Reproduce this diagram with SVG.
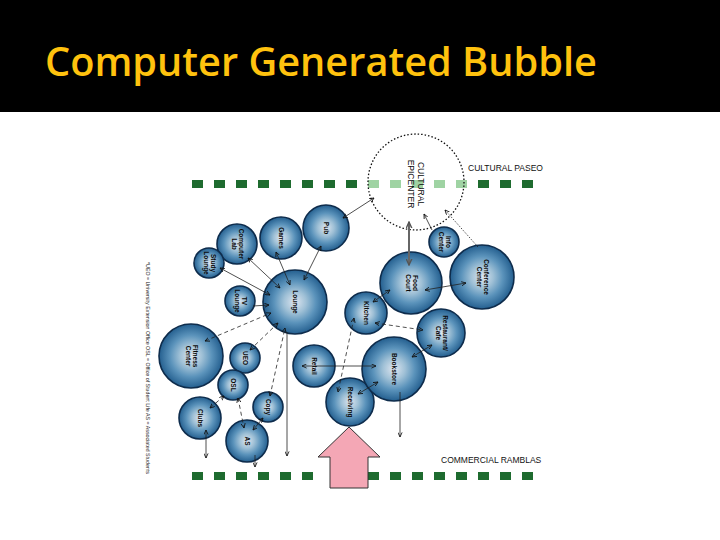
<svg xmlns="http://www.w3.org/2000/svg" width="720" height="540" viewBox="0 0 720 540">
<defs>
<radialGradient id="bub" cx="50%" cy="50%" r="50%">
<stop offset="0" stop-color="#dfe6f0"/>
<stop offset="0.35" stop-color="#9fc0d6"/>
<stop offset="0.65" stop-color="#5b93bb"/>
<stop offset="1" stop-color="#245f8f"/>
</radialGradient>
<marker id="ah" viewBox="0 0 6 6" refX="5.5" refY="3" markerWidth="5" markerHeight="5" markerUnits="userSpaceOnUse" orient="auto-start-reverse">
<path d="M0,0.5 L5.5,3 L0,5.5" fill="none" stroke="#111" stroke-width="1"/>
</marker>
<marker id="ahg" viewBox="0 0 6 6" refX="5.5" refY="3" markerWidth="7" markerHeight="7" markerUnits="userSpaceOnUse" orient="auto-start-reverse">
<path d="M0,0.5 L5.5,3 L0,5.5" fill="none" stroke="#555" stroke-width="1.2"/>
</marker>
</defs>
<style>
.b{fill:url(#bub);stroke:#0e2c4c;stroke-width:1.6}
.t{font-family:"Liberation Sans",Arial,sans-serif;font-weight:bold;font-size:6.5px;fill:#0a0a0a;text-anchor:middle}
.c{fill:none;stroke:#222;stroke-width:0.8}
.d{stroke-dasharray:4,3}
.sq{fill:#1e6b2f}
.sql{fill:#9fd3a3}
.lab{font-family:"Liberation Sans",Arial,sans-serif;font-size:8.5px;fill:#111}
</style>
<rect x="0" y="0" width="720" height="540" fill="#ffffff"/>
<rect x="0" y="0" width="720" height="112" fill="#000"/>
<text x="45" y="76" font-family="'Open Sans','Noto Sans',sans-serif" font-weight="600" font-size="40" fill="#FFC20E" textLength="552" lengthAdjust="spacingAndGlyphs">Computer Generated Bubble</text>

<g id="paseo-line">
<rect class="sq" x="192" y="180" width="11" height="8"/>
<rect class="sq" x="214" y="180" width="11" height="8"/>
<rect class="sq" x="236" y="180" width="11" height="8"/>
<rect class="sq" x="258" y="180" width="11" height="8"/>
<rect class="sq" x="280" y="180" width="11" height="8"/>
<rect class="sq" x="302" y="180" width="11" height="8"/>
<rect class="sq" x="324" y="180" width="11" height="8"/>
<rect class="sq" x="346" y="180" width="11" height="8"/>
<rect class="sql" x="368" y="180" width="11" height="8"/>
<rect class="sql" x="390" y="180" width="11" height="8"/>
<rect class="sql" x="412" y="180" width="11" height="8"/>
<rect class="sql" x="434" y="180" width="11" height="8"/>
<rect class="sql" x="456" y="180" width="11" height="8"/>
<rect class="sq" x="478" y="180" width="11" height="8"/>
<rect class="sq" x="500" y="180" width="11" height="8"/>
<rect class="sq" x="522" y="180" width="11" height="8"/>
</g>
<g id="ramblas-line">
<rect class="sq" x="192" y="472" width="11" height="8"/>
<rect class="sq" x="214" y="472" width="11" height="8"/>
<rect class="sq" x="236" y="472" width="11" height="8"/>
<rect class="sq" x="258" y="472" width="11" height="8"/>
<rect class="sq" x="280" y="472" width="11" height="8"/>
<rect class="sq" x="302" y="472" width="11" height="8"/>
<rect class="sq" x="368" y="472" width="11" height="8"/>
<rect class="sq" x="390" y="472" width="11" height="8"/>
<rect class="sq" x="412" y="472" width="11" height="8"/>
<rect class="sq" x="434" y="472" width="11" height="8"/>
<rect class="sq" x="456" y="472" width="11" height="8"/>
<rect class="sq" x="478" y="472" width="11" height="8"/>
<rect class="sq" x="500" y="472" width="11" height="8"/>
<rect class="sq" x="522" y="472" width="11" height="8"/>
</g>
<text class="lab" x="468" y="171">CULTURAL PASEO</text>
<text class="lab" x="441" y="463">COMMERCIAL RAMBLAS</text>
<text x="0" y="0" transform="translate(146,262) rotate(90)" font-family="'Liberation Sans',Arial,sans-serif" font-size="5.5" fill="#222" textLength="212" lengthAdjust="spacingAndGlyphs">*UEO = University Extension Office   OSL = Office of Student Life   AS = Associated Students</text>

<g id="epicenter">
<circle cx="416" cy="182" r="48" fill="none" stroke="#111" stroke-width="1.3" stroke-dasharray="1.5,2"/>
<text class="t" transform="translate(416,184) rotate(90)" style="font-weight:normal;font-size:8.5px"><tspan x="0" dy="-2">CULTURAL</tspan><tspan x="0" dy="10">EPICENTER</tspan></text>
</g>

<g id="pub"><circle class="b" cx="326" cy="228" r="23"/><text class="t" transform="translate(326,228) rotate(90)" dy="2">Pub</text></g>
<g id="games"><circle class="b" cx="281" cy="238" r="21"/><text class="t" transform="translate(281,238) rotate(90)" dy="2">Games</text></g>
<g id="computer-lab"><circle class="b" cx="237" cy="244" r="20"/><text class="t" transform="translate(237,244) rotate(90)"><tspan x="0" dy="-2">Computer</tspan><tspan x="0" dy="7">Lab</tspan></text></g>
<g id="study-lounge"><circle class="b" cx="209" cy="263" r="15"/><text class="t" transform="translate(209,263) rotate(90)"><tspan x="0" dy="-2">Study</tspan><tspan x="0" dy="7">Lounge</tspan></text></g>
<g id="lounge"><circle class="b" cx="295" cy="302" r="32"/><text class="t" transform="translate(295,302) rotate(90)" dy="2">Lounge</text></g>
<g id="tv-lounge"><circle class="b" cx="240" cy="301" r="15"/><text class="t" transform="translate(240,301) rotate(90)"><tspan x="0" dy="-2">TV</tspan><tspan x="0" dy="7">Lounge</tspan></text></g>
<g id="fitness"><circle class="b" cx="191" cy="356" r="32"/><text class="t" transform="translate(191,356) rotate(90)"><tspan x="0" dy="-2">Fitness</tspan><tspan x="0" dy="7">Center</tspan></text></g>
<g id="ueo"><circle class="b" cx="245" cy="358" r="15"/><text class="t" transform="translate(245,358) rotate(90)" dy="2">UEO</text></g>
<g id="osl"><circle class="b" cx="233" cy="385" r="15"/><text class="t" transform="translate(233,385) rotate(90)" dy="2">OSL</text></g>
<g id="clubs"><circle class="b" cx="200" cy="418" r="21"/><text class="t" transform="translate(200,418) rotate(90)" dy="2">Clubs</text></g>
<g id="copy"><circle class="b" cx="268" cy="407" r="15"/><text class="t" transform="translate(268,407) rotate(90)" dy="2">Copy</text></g>
<g id="as"><circle class="b" cx="247" cy="441" r="21"/><text class="t" transform="translate(247,441) rotate(90)" dy="2">AS</text></g>
<g id="retail"><circle class="b" cx="314" cy="366" r="21"/><text class="t" transform="translate(314,366) rotate(90)" dy="2">Retail</text></g>
<g id="receiving"><circle class="b" cx="350" cy="402" r="24"/><text class="t" transform="translate(350,402) rotate(90)" dy="2">Receiving</text></g>
<g id="bookstore"><circle class="b" cx="394" cy="369" r="32"/><text class="t" transform="translate(394,369) rotate(90)" dy="2">Bookstore</text></g>
<g id="kitchen"><circle class="b" cx="366" cy="313" r="21"/><text class="t" transform="translate(366,313) rotate(90)" dy="2">Kitchen</text></g>
<g id="restaurant"><circle class="b" cx="441" cy="333" r="24"/><text class="t" transform="translate(441,333) rotate(90)"><tspan x="0" dy="-2">Restaurant/</tspan><tspan x="0" dy="7">Cafe</tspan></text></g>
<g id="food-court"><circle class="b" cx="411" cy="283" r="31"/><text class="t" transform="translate(411,283) rotate(90)"><tspan x="0" dy="-2">Food</tspan><tspan x="0" dy="7">Court</tspan></text></g>
<g id="info-center"><circle class="b" cx="444" cy="242" r="15"/><text class="t" transform="translate(444,242) rotate(90)"><tspan x="0" dy="-2">Info</tspan><tspan x="0" dy="7">Center</tspan></text></g>
<g id="conference"><circle class="b" cx="482" cy="277" r="32"/><text class="t" transform="translate(482,277) rotate(90)"><tspan x="0" dy="-2">Conference</tspan><tspan x="0" dy="7">Center</tspan></text></g>

<g id="connectors">
<line class="c" x1="321" y1="246" x2="304" y2="280" marker-start="url(#ah)" marker-end="url(#ah)"/>
<line class="c" x1="276" y1="252" x2="290" y2="285" marker-start="url(#ah)" marker-end="url(#ah)"/>
<line class="c" x1="248" y1="258" x2="280" y2="288" marker-start="url(#ah)" marker-end="url(#ah)"/>
<line class="c" x1="220" y1="268" x2="270" y2="295" marker-start="url(#ah)" marker-end="url(#ah)"/>
<line class="c" x1="253" y1="306" x2="269" y2="305" marker-end="url(#ah)"/>
<line class="c d" x1="205" y1="341" x2="271" y2="313" marker-start="url(#ah)" marker-end="url(#ah)"/>
<line class="c d" x1="250" y1="350" x2="278" y2="323" marker-start="url(#ah)" marker-end="url(#ah)"/>
<line class="c d" x1="270" y1="396" x2="285" y2="328" marker-start="url(#ah)" marker-end="url(#ah)"/>
<line class="c d" x1="238" y1="398" x2="244" y2="428" marker-start="url(#ah)" marker-end="url(#ah)"/>
<line class="c" x1="263" y1="418" x2="253" y2="430" marker-start="url(#ah)" marker-end="url(#ah)"/>
<line class="c d" x1="224" y1="396" x2="210" y2="408" marker-start="url(#ah)" marker-end="url(#ah)"/>
<line class="c" x1="206" y1="430" x2="206" y2="458" marker-start="url(#ah)" marker-end="url(#ah)"/>
<line class="c" x1="255" y1="455" x2="255" y2="467" marker-end="url(#ah)"/>
<line class="c" x1="287" y1="332" x2="287" y2="456" marker-end="url(#ah)"/>
<line class="c" x1="302" y1="366" x2="376" y2="366" marker-start="url(#ah)" marker-end="url(#ah)"/>
<line class="c" x1="358" y1="394" x2="378" y2="382" marker-start="url(#ah)" marker-end="url(#ah)"/>
<line class="c" x1="373" y1="302" x2="390" y2="290" marker-start="url(#ah)" marker-end="url(#ah)"/>
<line class="c d" x1="375" y1="323" x2="423" y2="330" marker-start="url(#ah)" marker-end="url(#ah)"/>
<line class="c d" x1="354" y1="318" x2="338" y2="392" marker-start="url(#ah)" marker-end="url(#ah)"/>
<line class="c" x1="432" y1="345" x2="412" y2="357" marker-start="url(#ah)" marker-end="url(#ah)"/>
<line class="c" x1="400" y1="392" x2="400" y2="437" marker-end="url(#ah)"/>
<line x1="409" y1="222" x2="409" y2="265" stroke="#666" stroke-width="2" marker-start="url(#ahg)" marker-end="url(#ahg)"/>
<line class="c" x1="425" y1="290" x2="466" y2="283" marker-start="url(#ah)" marker-end="url(#ah)"/>
<line class="c" x1="432" y1="230" x2="424" y2="214" marker-end="url(#ah)"/>
<line class="c" x1="478" y1="247" x2="445" y2="210" stroke-dasharray="1.5,1.5" marker-end="url(#ah)"/>
<line class="c" x1="343" y1="218" x2="374" y2="198" marker-start="url(#ah)" marker-end="url(#ah)"/>
</g>

<g id="entry-arrow">
<polygon points="349,427 380,457 368,457 368,488 330,488 330,457 318,457" fill="#F4A7B5" stroke="#333" stroke-width="1"/>
</g>
</svg>
